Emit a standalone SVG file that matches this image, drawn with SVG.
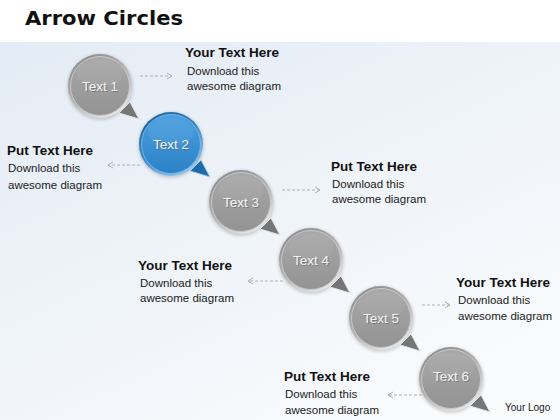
<svg xmlns="http://www.w3.org/2000/svg" xmlns:xlink="http://www.w3.org/1999/xlink" width="560" height="420" viewBox="0 0 560 420">
<defs>
<linearGradient id="bg" x1="0" y1="0" x2="0.7" y2="1">
<stop offset="0" stop-color="#e3ebf4"/>
<stop offset="1" stop-color="#f9fbfd"/>
</linearGradient>
<linearGradient id="rimG" x1="0.2" y1="0" x2="0.8" y2="1">
<stop offset="0" stop-color="#8a8a8a"/>
<stop offset="0.5" stop-color="#b4b4b4"/>
<stop offset="1" stop-color="#eeeeee"/>
</linearGradient>
<linearGradient id="discG" x1="0" y1="0" x2="0" y2="1">
<stop offset="0" stop-color="#a9a9a9"/>
<stop offset="1" stop-color="#939393"/>
</linearGradient>
<linearGradient id="rimB" x1="0.2" y1="0" x2="0.8" y2="1">
<stop offset="0" stop-color="#1d5f98"/>
<stop offset="0.5" stop-color="#3c8ccc"/>
<stop offset="1" stop-color="#9fcdf0"/>
</linearGradient>
<linearGradient id="discB" x1="0" y1="0" x2="0" y2="1">
<stop offset="0" stop-color="#4a9fe0"/>
<stop offset="1" stop-color="#2c82c6"/>
</linearGradient>
<filter id="sh" x="-30%" y="-30%" width="160%" height="160%">
<feGaussianBlur stdDeviation="1.5"/>
</filter>
<g id="bubbleGrey">
<circle cx="0" cy="1" r="33" fill="#000" fill-opacity="0.16" filter="url(#sh)"/>
<polygon points="19,27 30,16 39,33" fill="#767676" stroke="#e4e4e4" stroke-width="1"/>
<circle r="32" fill="url(#rimG)"/>
<circle r="29.5" fill="url(#discG)" stroke="#c8c8c8" stroke-width="1"/>
<ellipse cx="0" cy="-12" rx="23" ry="14" fill="#fff" fill-opacity="0.05"/>
</g>
<g id="bubbleBlue">
<circle cx="0" cy="1" r="33" fill="#000" fill-opacity="0.16" filter="url(#sh)"/>
<polygon points="19,27 30,16 39,33" fill="#1f6aa8" stroke="#a6cdee" stroke-width="1"/>
<circle r="32" fill="url(#rimB)"/>
<circle r="29.5" fill="url(#discB)" stroke="#7ab6e6" stroke-width="1"/>
<ellipse cx="0" cy="-12" rx="23" ry="14" fill="#fff" fill-opacity="0.06"/>
</g>
<marker id="ah" markerWidth="8" markerHeight="8" refX="6" refY="4" orient="auto" markerUnits="userSpaceOnUse">
<path d="M1,1 L6,4 L1,7" fill="none" stroke="#b0b0b0" stroke-width="1"/>
</marker>
</defs>
<style>
.title{font-family:"DejaVu Sans","Liberation Sans",sans-serif;font-weight:bold;font-size:20px;fill:#111}
.hd{font-family:"Liberation Sans",Arial,sans-serif;font-weight:bold;font-size:13.5px;fill:#111}
.bd{font-family:"Liberation Sans",Arial,sans-serif;font-size:11.5px;fill:#222}
.lbl{font-family:"Liberation Sans",Arial,sans-serif;font-size:13.5px;fill:#f4f4f4;text-anchor:middle}
.lblsh{font-family:"Liberation Sans",Arial,sans-serif;font-size:13.5px;fill:#555;fill-opacity:0.5;text-anchor:middle}
.con{fill:none;stroke:#b0b0b0;stroke-width:1;stroke-dasharray:3 2}
.logo{font-family:"Liberation Sans",Arial,sans-serif;font-size:10px;fill:#222}
</style>
<rect x="0" y="0" width="560" height="420" fill="#fff"/>
<rect x="0" y="42" width="560" height="378" fill="url(#bg)"/>
<text class="title" x="25" y="25" textLength="158" lengthAdjust="spacingAndGlyphs">Arrow Circles</text>

<g id="connectors">
<line class="con" x1="140" y1="76" x2="172" y2="76" marker-end="url(#ah)"/>
<line class="con" x1="140" y1="165" x2="108" y2="165" marker-end="url(#ah)"/>
<line class="con" x1="282" y1="190" x2="320" y2="190" marker-end="url(#ah)"/>
<line class="con" x1="283" y1="281" x2="248" y2="281" marker-end="url(#ah)"/>
<line class="con" x1="422" y1="305" x2="450" y2="305" marker-end="url(#ah)"/>
<line class="con" x1="422" y1="395" x2="388" y2="395" marker-end="url(#ah)"/>
</g>

<g id="node1">
<use href="#bubbleGrey" x="100" y="86"/>
<text class="lblsh" x="101" y="92">Text 1</text>
<text class="lbl" x="100" y="91">Text 1</text>
</g>
<g id="node2">
<use href="#bubbleBlue" x="171" y="144"/>
<text class="lblsh" x="172" y="150">Text 2</text>
<text class="lbl" x="171" y="149">Text 2</text>
</g>
<g id="node3">
<use href="#bubbleGrey" x="241" y="202"/>
<text class="lblsh" x="242" y="208">Text 3</text>
<text class="lbl" x="241" y="207">Text 3</text>
</g>
<g id="node4">
<use href="#bubbleGrey" x="311" y="260"/>
<text class="lblsh" x="312" y="266">Text 4</text>
<text class="lbl" x="311" y="265">Text 4</text>
</g>
<g id="node5">
<use href="#bubbleGrey" x="381" y="318"/>
<text class="lblsh" x="382" y="324">Text 5</text>
<text class="lbl" x="381" y="323">Text 5</text>
</g>
<g id="node6">
<use href="#bubbleGrey" x="451" y="379"/>
<text class="lblsh" x="452" y="382">Text 6</text>
<text class="lbl" x="451" y="381">Text 6</text>
</g>

<g id="label1">
<text class="hd" x="185" y="57">Your Text Here</text>
<text class="bd" x="187" y="75">Download this</text>
<text class="bd" x="187" y="90">awesome diagram</text>
</g>
<g id="label2">
<text class="hd" x="7" y="155">Put Text Here</text>
<text class="bd" x="8" y="172">Download this</text>
<text class="bd" x="8" y="189">awesome diagram</text>
</g>
<g id="label3">
<text class="hd" x="331" y="171">Put Text Here</text>
<text class="bd" x="332" y="188">Download this</text>
<text class="bd" x="332" y="203">awesome diagram</text>
</g>
<g id="label4">
<text class="hd" x="138" y="270">Your Text Here</text>
<text class="bd" x="140" y="287">Download this</text>
<text class="bd" x="140" y="302">awesome diagram</text>
</g>
<g id="label5">
<text class="hd" x="456" y="287">Your Text Here</text>
<text class="bd" x="458" y="304">Download this</text>
<text class="bd" x="458" y="320">awesome diagram</text>
</g>
<g id="label6">
<text class="hd" x="284" y="381">Put Text Here</text>
<text class="bd" x="285" y="398">Download this</text>
<text class="bd" x="285" y="414">awesome diagram</text>
</g>
<text class="logo" x="505" y="411">Your Logo</text>
</svg>
